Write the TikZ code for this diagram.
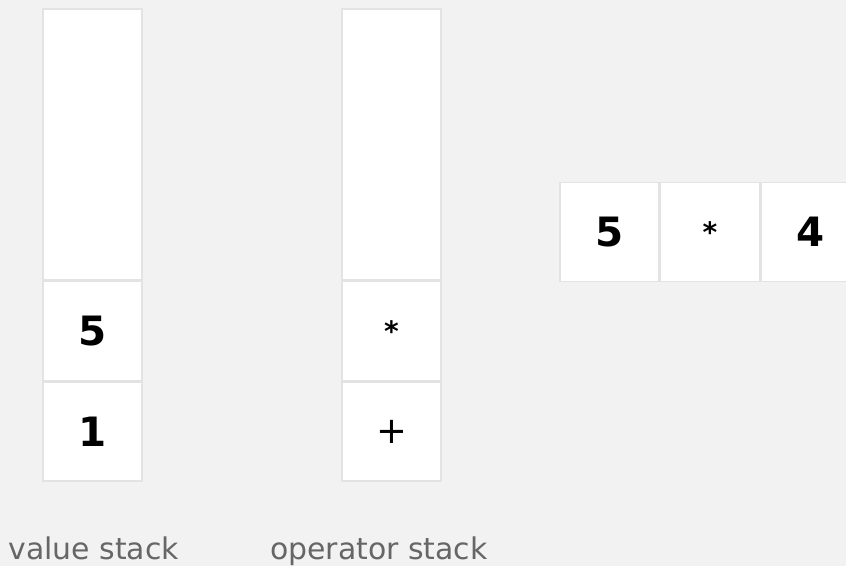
\documentclass[tikz,border=0pt]{standalone}
\usepackage{fontspec}
\setmainfont{DejaVu Sans}
\usepackage{xcolor}
\usetikzlibrary{positioning}
\definecolor{pagebg}{HTML}{F2F2F2}
\definecolor{cellline}{HTML}{E3E3E3}
\definecolor{labelgray}{HTML}{666666}
\tikzset{
  cell box/.style  = {draw=cellline, line width=0.8pt, fill=white,
                      minimum width=1.98cm, minimum height=1.98cm,
                      inner sep=0pt, text=black,
                      font=\fontsize{23}{23}\selectfont\bfseries},
  op box/.style    = {cell box, font=\fontsize{21}{21}\selectfont},
  star box/.style  = {cell box, font=\fontsize{16}{16}\selectfont\bfseries},
  empty box/.style = {cell box, minimum height=5.42cm},
  stack label/.style = {anchor=base west, inner sep=0pt, text=labelgray,
                      font=\fontsize{17}{17}\selectfont},
}

\begin{document}
\begin{tikzpicture}

  %% page
  \fill[pagebg] (0,0) rectangle (16.92,-11.32);
  \clip (0,0) rectangle (16.92,-11.32);

  %% --- value stack ---------------------------------------------
  \node[cell box] (v1) at (1.85,-8.63) {1};
  \node[cell box, above=0pt of v1] (v2) {5};
  \node[empty box, above=0pt of v2] (vtop) {};

  %% --- operator stack ------------------------------------------
  \node[op box] (o1) at (7.83,-8.63) {+};
  \node[star box, above=0pt of o1] (o2) {*};
  \node[empty box, above=0pt of o2] (otop) {};

  %% --- remaining input -----------------------------------------
  \node[cell box] (t1) at (12.19,-4.64) {5};
  \node[star box, right=0pt of t1] (t2) {*};
  \node[cell box, right=0pt of t2] (t3) {4};

  %% labels
  \node[stack label] (vlab) at (0.16,-11.18) {value stack};
  \node[stack label] (olab) at (5.40,-11.18) {operator stack};
\end{tikzpicture}
\end{document}
